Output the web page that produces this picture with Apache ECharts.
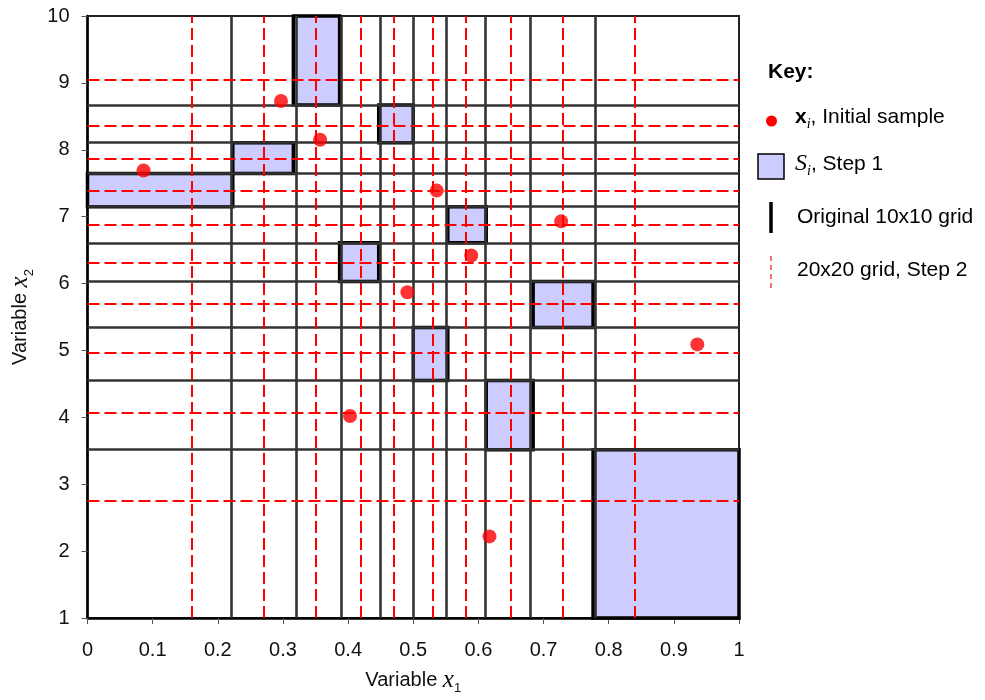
<!DOCTYPE html>
<html>
<head>
<meta charset="utf-8">
<script src="https://cdn.jsdelivr.net/npm/echarts/dist/echarts.min.js"></script>
<style>
  html, body { margin: 0; padding: 0; background: #fff; }
  #main { width: 985px; height: 700px; }
</style>
</head>
<body>
<div id="main"></div>
<script>
// original 10x10 grid cut points (bounds included)
const xCuts = [0, 0.223, 0.316, 0.387, 0.447, 0.500, 0.553, 0.612, 0.684, 0.776, 1];
const yCuts = [1, 3.517, 4.549, 5.342, 6.029, 6.610, 7.148, 7.647, 8.105, 8.668, 10];
// 20x20 grid lines, step 2
const xFine = [0.158, 0.274, 0.353, 0.419, 0.474, 0.526, 0.581, 0.647, 0.727, 0.842];
const yFine = [2.762, 4.065, 4.972, 5.697, 6.314, 6.881, 7.395, 7.869, 8.361, 9.053];
// initial sample x_i
const sampleX = [0.086, 0.297, 0.357, 0.536, 0.727, 0.589, 0.491, 0.936, 0.403, 0.617];
const sampleY = [7.69, 8.73, 8.15, 7.39, 6.93, 6.42, 5.87, 5.09, 4.02, 2.22];
// cells S_i picked in step 1 (column / row index in the cut arrays)
const cellCol = [0, 1, 2, 3, 4, 5, 6, 7, 8, 9];
const cellRow = [6, 7, 9, 4, 8, 2, 5, 1, 3, 0];

const font = "Liberation Sans";

const cells = cellCol.map((c, i) => {
  const r = cellRow[i];
  return [xCuts[c], xCuts[c + 1], yCuts[r], yCuts[r + 1]];
});
const points = sampleX.map((x, i) => [x, sampleY[i]]);

const nameRich = {
  t: { fontFamily: font, fontSize: 20, color: "#111", lineHeight: 30 },
  v: { fontFamily: "Liberation Serif", fontStyle: "italic", fontSize: 25, color: "#111", lineHeight: 30 },
  s: { fontFamily: font, fontSize: 13, color: "#111", lineHeight: 14, verticalAlign: "bottom" },
};

let myChart = echarts.init(document.getElementById("main"));
let option = {
  animation: false,
  grid: {
    left: 87,
    right: 246,
    top: 16,
    bottom: 76,
    show: true,
    borderColor: "#222",
    borderWidth: 2,
  },
  xAxis: {
    type: "value",
    min: 0,
    max: 1,
    interval: 0.1,
    name: "{t|Variable }{v|x}{s|1}",
    nameLocation: "middle",
    nameGap: 47,
    nameTextStyle: { rich: nameRich },
    axisLine: { show: true, onZero: false, lineStyle: { color: "#000", width: 2.5 } },
    axisTick: { show: true, length: 6, lineStyle: { color: "#555" } },
    axisLabel: { margin: 22, fontSize: 20, color: "#111", fontFamily: font },
    splitLine: { show: false },
  },
  yAxis: {
    type: "value",
    min: 1,
    max: 10,
    interval: 1,
    name: "{t|Variable }{v|x}{s|2}",
    nameLocation: "middle",
    nameRotate: 90,
    nameGap: 52,
    nameTextStyle: { rich: nameRich },
    axisLine: { show: true, onZero: false, lineStyle: { color: "#000", width: 2.5 } },
    axisTick: { show: true, length: 6, lineStyle: { color: "#555" } },
    axisLabel: { margin: 18, fontSize: 20, color: "#111", fontFamily: font },
    splitLine: { show: false },
  },
  series: [
    {
      // original 10x10 grid
      type: "line",
      data: [],
      z: 1,
      silent: true,
      markLine: {
        silent: true,
        symbol: ["none", "none"],
        label: { show: false },
        emphasis: { disabled: true },
        lineStyle: { type: "solid", color: "#333", width: 2.6 },
        data: xCuts.slice(1, -1).map((v) => ({ xAxis: v }))
          .concat(yCuts.slice(1, -1).map((v) => ({ yAxis: v }))),
      },
    },
    {
      // 20x20 grid, step 2
      type: "line",
      data: [],
      z: 2,
      silent: true,
      markLine: {
        silent: true,
        symbol: ["none", "none"],
        label: { show: false },
        emphasis: { disabled: true },
        lineStyle: { type: [12, 5], color: "#ff0000", width: 2 },
        data: xFine.map((v) => ({ xAxis: v }))
          .concat(yFine.map((v) => ({ yAxis: v }))),
      },
    },
    {
      type: "custom",
      z: 3,
      silent: true,
      data: cells,
      encode: { x: [0, 1], y: [2, 3] },
      renderItem: function (params, api) {
        let p0 = api.coord([api.value(0), api.value(3)]);
        let p1 = api.coord([api.value(1), api.value(2)]);
        return {
          type: "rect",
          shape: { x: p0[0], y: p0[1], width: p1[0] - p0[0], height: p1[1] - p0[1] },
          style: { fill: "rgba(153,153,255,0.5)", stroke: "#000", lineWidth: 3.5 },
        };
      },
    },
    {
      type: "scatter",
      z: 5,
      data: points,
      symbol: "circle",
      symbolSize: 14,
      itemStyle: { color: "#ff0000" },
    },
  ],
  graphic: [
    {
      type: "text", x: 768, y: 72,
      style: { text: "Key:", font: "bold 21px " + font, fill: "#000", verticalAlign: "middle" },
    },
    { type: "circle", shape: { cx: 771.5, cy: 121, r: 5.5 }, style: { fill: "#ff0000" } },
    {
      type: "text", x: 795, y: 117,
      style: {
        text: "{b|x}{s|i}{n|, Initial sample}",
        verticalAlign: "middle",
        rich: {
          b: { fontFamily: font, fontWeight: "bold", fontSize: 21, lineHeight: 28, fill: "#000" },
          s: { fontFamily: "Liberation Serif", fontStyle: "italic", fontSize: 14, lineHeight: 14, verticalAlign: "bottom", fill: "#000" },
          n: { fontFamily: font, fontSize: 21, lineHeight: 28, fill: "#000" },
        },
      },
    },
    {
      type: "rect", shape: { x: 758, y: 154, width: 26, height: 25 },
      style: { fill: "#ccccff", stroke: "#000", lineWidth: 1.5 },
    },
    {
      type: "text", x: 795, y: 164,
      style: {
        text: "{v|S}{s|i}{n|, Step 1}",
        verticalAlign: "middle",
        rich: {
          v: { fontFamily: "Liberation Serif", fontStyle: "italic", fontSize: 24, lineHeight: 28, fill: "#000" },
          s: { fontFamily: "Liberation Serif", fontStyle: "italic", fontSize: 14, lineHeight: 14, verticalAlign: "bottom", fill: "#000" },
          n: { fontFamily: font, fontSize: 21, lineHeight: 28, fill: "#000" },
        },
      },
    },
    {
      type: "line", shape: { x1: 771, y1: 202, x2: 771, y2: 233 },
      style: { stroke: "#000", lineWidth: 3.5 },
    },
    {
      type: "text", x: 797, y: 217,
      style: { text: "Original 10x10 grid", font: "21px " + font, fill: "#000", verticalAlign: "middle" },
    },
    {
      type: "line", shape: { x1: 771, y1: 256, x2: 771, y2: 289 },
      style: { stroke: "#f04050", lineWidth: 1.5, lineDash: [5, 4] },
    },
    {
      type: "text", x: 797, y: 270,
      style: { text: "20x20 grid, Step 2", font: "21px " + font, fill: "#000", verticalAlign: "middle" },
    },
  ],
};
myChart.setOption(option);
</script>
</body>
</html>
